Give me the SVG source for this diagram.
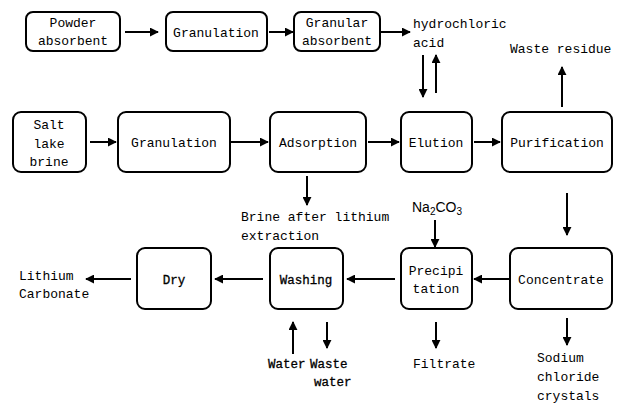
<svg xmlns="http://www.w3.org/2000/svg" width="618" height="406" viewBox="0 0 618 406">
<style>
.box{fill:#fff;stroke:#000;stroke-width:2}
text{font-family:"Liberation Mono","DejaVu Sans Mono",monospace;font-size:13px;fill:#000}
.c{text-anchor:middle}
.sm{font-size:12.5px;stroke:#000;stroke-width:0.3}
.conn line{stroke:#000;stroke-width:2}
.sans{font-family:"Liberation Sans",Arial,sans-serif;font-size:14px}
</style>
<defs>
<marker id="ah" viewBox="0 0 10 10" refX="9" refY="5" markerWidth="4.5" markerHeight="4.5" orient="auto" markerUnits="strokeWidth">
<path d="M0,0 L10,5 L0,10 z" fill="#000"/>
</marker>
</defs>
<rect width="618" height="406" fill="#fff"/>

<g id="powder"><rect class="box" x="26" y="12" width="94" height="39" rx="7"/><text class="c" x="73" y="27">Powder</text><text class="c" x="73" y="45">absorbent</text></g>
<g id="granulation-top"><rect class="box" x="166" y="12" width="101" height="39" rx="7"/><text class="c" x="216" y="37">Granulation</text></g>
<g id="granular"><rect class="box" x="294" y="12" width="86" height="39" rx="7"/><text class="c" x="337" y="27">Granular</text><text class="c" x="337" y="45">absorbent</text></g>
<g id="hcl"><text x="413" y="28">hydrochloric</text><text x="413" y="47">acid</text></g>
<g id="waste-residue"><text x="510" y="53">Waste residue</text></g>

<g id="salt"><rect class="box" x="13" y="112" width="73" height="60" rx="8"/><text class="c" x="49" y="129">Salt</text><text class="c" x="49" y="148">lake</text><text class="c" x="49" y="166">brine</text></g>
<g id="granulation"><rect class="box" x="118" y="112" width="112" height="60" rx="8"/><text class="c" x="174" y="147">Granulation</text></g>
<g id="adsorption"><rect class="box" x="270" y="112" width="96" height="60" rx="8"/><text class="c" x="318" y="147">Adsorption</text></g>
<g id="elution"><rect class="box" x="401" y="112" width="71" height="60" rx="8"/><text class="c" x="436" y="147">Elution</text></g>
<g id="purification"><rect class="box" x="502" y="112" width="110" height="60" rx="8"/><text class="c" x="557" y="147">Purification</text></g>
<g id="brine-after"><text x="241" y="221">Brine after lithium</text><text x="241" y="240">extraction</text></g>
<g id="na2co3"><text class="sans" x="412" y="212">Na<tspan font-size="10" dy="3">2</tspan><tspan dy="-3">CO</tspan><tspan font-size="10" dy="3">3</tspan></text></g>

<g id="dry"><rect class="box" x="137" y="248" width="74" height="61" rx="8"/><text class="c sm" x="174" y="284">Dry</text></g>
<g id="washing"><rect class="box" x="270" y="248" width="73" height="61" rx="8"/><text class="c sm" x="306" y="284">Washing</text></g>
<g id="precipitation"><rect class="box" x="401" y="248" width="71" height="61" rx="8"/><text class="c" x="436" y="275">Precipi</text><text class="c" x="436" y="293">tation</text></g>
<g id="concentrate"><rect class="box" x="510" y="248" width="102" height="61" rx="8"/><text class="c" x="561" y="284">Concentrate</text></g>
<g id="lithium-carbonate"><text x="19" y="280">Lithium</text><text x="19" y="298">Carbonate</text></g>
<g id="water"><text class="sm" x="268" y="368">Water</text></g>
<g id="waste-water"><text class="sm" x="310" y="368">Waste</text><text class="sm" x="314" y="386">water</text></g>
<g id="filtrate"><text x="413" y="368">Filtrate</text></g>
<g id="nacl"><text x="537" y="362">Sodium</text><text x="537" y="381">chloride</text><text x="537" y="400">crystals</text></g>

<g class="conn" id="connectors">
<line x1="125" y1="32" x2="158" y2="32" marker-end="url(#ah)"/>
<line x1="269" y1="32" x2="293" y2="32" marker-end="url(#ah)"/>
<line x1="381" y1="32" x2="410" y2="32" marker-end="url(#ah)"/>
<line x1="423" y1="55" x2="423" y2="97" marker-end="url(#ah)"/>
<line x1="436" y1="93" x2="436" y2="55" marker-end="url(#ah)"/>
<line x1="562" y1="107" x2="562" y2="67" marker-end="url(#ah)"/>
<line x1="90" y1="142" x2="116" y2="142" marker-end="url(#ah)"/>
<line x1="231" y1="142" x2="268" y2="142" marker-end="url(#ah)"/>
<line x1="368" y1="142" x2="399" y2="142" marker-end="url(#ah)"/>
<line x1="474" y1="142" x2="500" y2="142" marker-end="url(#ah)"/>
<line x1="307" y1="176" x2="307" y2="205" marker-end="url(#ah)"/>
<line x1="435" y1="220" x2="435" y2="247" marker-end="url(#ah)"/>
<line x1="567" y1="193" x2="567" y2="235" marker-end="url(#ah)"/>
<line x1="509" y1="279" x2="474" y2="279" marker-end="url(#ah)"/>
<line x1="395" y1="279" x2="347" y2="279" marker-end="url(#ah)"/>
<line x1="263" y1="279" x2="215" y2="279" marker-end="url(#ah)"/>
<line x1="131" y1="279" x2="86" y2="279" marker-end="url(#ah)"/>
<line x1="293" y1="354" x2="293" y2="322" marker-end="url(#ah)"/>
<line x1="327" y1="322" x2="327" y2="348" marker-end="url(#ah)"/>
<line x1="436" y1="322" x2="436" y2="348" marker-end="url(#ah)"/>
<line x1="567" y1="318" x2="567" y2="345" marker-end="url(#ah)"/>
</g>
</svg>
